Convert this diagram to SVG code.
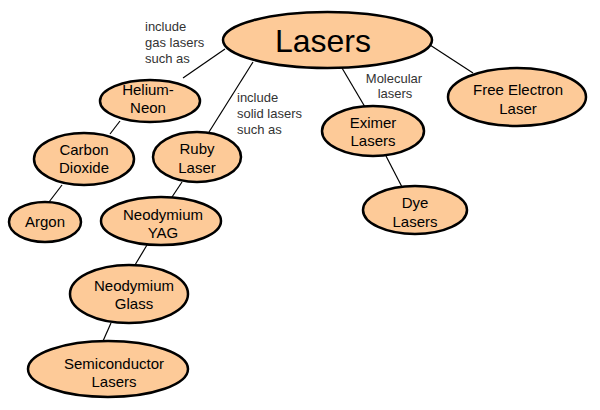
<svg xmlns="http://www.w3.org/2000/svg" width="600" height="410" viewBox="0 0 600 410">
<style>
.n ellipse{fill:#FDCA98;stroke:#000;stroke-width:2.5}
.n text{font-family:"Liberation Sans",Arial,sans-serif;font-size:15px;fill:#000;text-anchor:middle}
.c line{stroke:#000;stroke-width:1.2}
.l{font-family:"Liberation Sans",Arial,sans-serif;font-size:13px;fill:#333}
</style>
<rect width="600" height="410" fill="#fff"/>
<g class="c" id="connectors">
<line x1="225" y1="49" x2="183" y2="78"/>
<line x1="253" y1="62" x2="209" y2="132"/>
<line x1="342" y1="68" x2="365" y2="107"/>
<line x1="430" y1="45" x2="473" y2="73"/>
<line x1="120" y1="121" x2="110" y2="134"/>
<line x1="62" y1="185" x2="49" y2="202"/>
<line x1="182" y1="182" x2="172" y2="197"/>
<line x1="147" y1="245" x2="135" y2="265"/>
<line x1="111" y1="323" x2="103" y2="341"/>
<line x1="386" y1="156" x2="402" y2="187"/>
</g>
<text class="l" x="145" y="31">include</text>
<text class="l" x="145" y="47">gas lasers</text>
<text class="l" x="145" y="63">such as</text>
<text class="l" x="237" y="102">include</text>
<text class="l" x="237" y="118">solid lasers</text>
<text class="l" x="237" y="134">such as</text>
<text class="l" x="394" y="83" text-anchor="middle">Molecular</text>
<text class="l" x="395" y="98" text-anchor="middle">lasers</text>
<g class="n" id="lasers">
<ellipse cx="327.5" cy="40" rx="104.5" ry="28"/>
<text x="323" y="52" style="font-size:32px">Lasers</text>
</g>
<g class="n" id="helium-neon">
<ellipse cx="150" cy="101" rx="50" ry="21"/>
<text x="148" y="95">Helium-</text>
<text x="148" y="113">Neon</text>
</g>
<g class="n" id="carbon-dioxide">
<ellipse cx="84" cy="159" rx="50" ry="26"/>
<text x="84" y="155">Carbon</text>
<text x="84" y="173">Dioxide</text>
</g>
<g class="n" id="argon">
<ellipse cx="45" cy="222" rx="36" ry="20"/>
<text x="45" y="227">Argon</text>
</g>
<g class="n" id="ruby-laser">
<ellipse cx="197" cy="157" rx="44" ry="25"/>
<text x="197" y="154">Ruby</text>
<text x="197" y="173">Laser</text>
</g>
<g class="n" id="neodymium-yag">
<ellipse cx="161" cy="221" rx="60" ry="24"/>
<text x="163" y="220">Neodymium</text>
<text x="163" y="238">YAG</text>
</g>
<g class="n" id="neodymium-glass">
<ellipse cx="129" cy="294" rx="59" ry="29"/>
<text x="134" y="291">Neodymium</text>
<text x="134" y="309">Glass</text>
</g>
<g class="n" id="semiconductor-lasers">
<ellipse cx="108" cy="369" rx="80" ry="28"/>
<text x="114" y="369">Semiconductor</text>
<text x="114" y="387">Lasers</text>
</g>
<g class="n" id="eximer-lasers">
<ellipse cx="373" cy="131" rx="51" ry="25"/>
<text x="373" y="128">Eximer</text>
<text x="373" y="146">Lasers</text>
</g>
<g class="n" id="dye-lasers">
<ellipse cx="415" cy="210" rx="52" ry="24"/>
<text x="415" y="208">Dye</text>
<text x="415" y="227">Lasers</text>
</g>
<g class="n" id="free-electron-laser">
<ellipse cx="517" cy="97" rx="69" ry="29"/>
<text x="518" y="95">Free Electron</text>
<text x="518" y="114">Laser</text>
</g>
</svg>
